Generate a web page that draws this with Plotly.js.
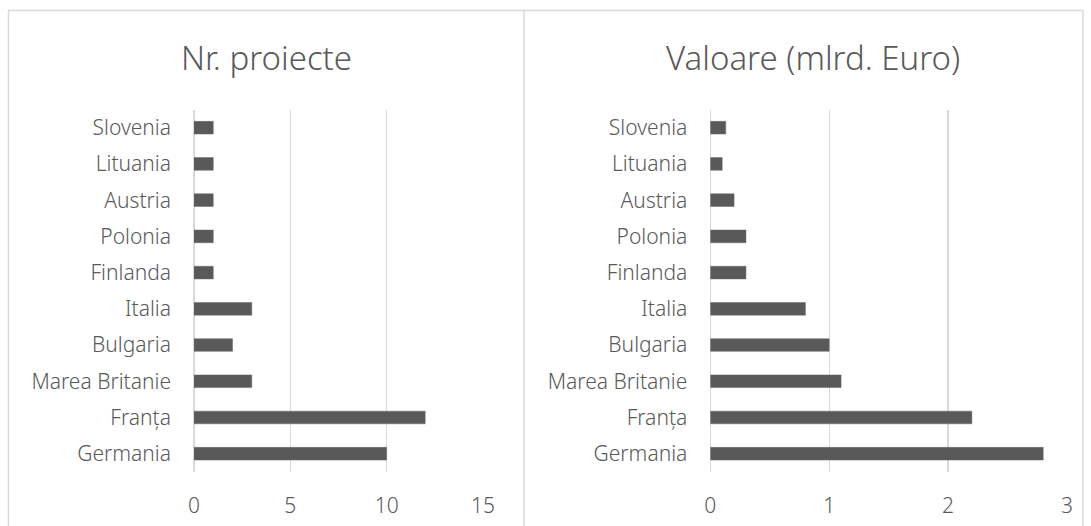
<!DOCTYPE html>
<html>
<head>
<meta charset="utf-8">
<script src="https://cdn.plot.ly/plotly-3.0.1.min.js"></script>
<style>
html,body{margin:0;padding:0;background:#fff;}
#chart{width:1091px;height:526px;}
</style>
</head>
<body>
<div id="chart"></div>
<script>
// Categories listed bottom to top
const countries = ['Germania','Franța','Marea Britanie','Bulgaria','Italia','Finlanda','Polonia','Austria','Lituania','Slovenia'];
const nrProiecte = [10, 12, 3, 2, 3, 1, 1, 1, 1, 1];
const valoare = [2.8, 2.2, 1.1, 1.0, 0.8, 0.3, 0.3, 0.2, 0.1, 0.13];
const leftTitle = 'Nr. proiecte';
const rightTitle = 'Valoare (mlrd. Euro)';
const leftTicks = [0, 5, 10, 15];
const rightTicks = [0, 1, 2, 3];

const W = 1091, H = 526;
const px = v => v / W;
const py = v => 1 - v / H;

const textColor = '#595959';
const gridColor = '#d9d9d9';
const barColor = '#595959';
const font = 'Noto Sans, Open Sans, sans-serif';

const plotTop = 109.6, plotBottom = 471.8;

const traces = [
  {type:'bar', orientation:'h', y: countries, x: nrProiecte, xaxis:'x', yaxis:'y',
   marker:{color:barColor, line:{color:'#6b6b6b', width:0.5}}, hoverinfo:'x+y'},
  {type:'bar', orientation:'h', y: countries, x: valoare, xaxis:'x2', yaxis:'y2',
   marker:{color:barColor, line:{color:'#6b6b6b', width:0.5}}, hoverinfo:'x+y'}
];

function xAxis(domain, range, ticks){
  return {
    domain: domain, range: range, tickvals: ticks, ticktext: ticks.map(String),
    showgrid: true, gridcolor: gridColor, gridwidth: 1.3,
    zeroline: true, zerolinecolor: gridColor, zerolinewidth: 1.5,
    showline: false, ticks: '', ticklabelstandoff: 19,
    tickfont: {family: font, size: 21, color: textColor, weight: 300}, fixedrange: true
  };
}
function yAxis(domain, anchor){
  return {
    domain: domain, anchor: anchor, type: 'category',
    showgrid: false, zeroline: false, showline: false, ticks: '',
    ticklabelstandoff: 22,
    tickfont: {family: font, size: 21, color: textColor, weight: 300}, fixedrange: true
  };
}

const yDom = [py(plotBottom), py(plotTop)];

const layout = {
  width: W, height: H,
  margin: {l:0, r:0, t:0, b:0, pad:0},
  paper_bgcolor: '#ffffff', plot_bgcolor: 'rgba(0,0,0,0)',
  showlegend: false, bargap: 0.65,
  xaxis: Object.assign(xAxis([px(194), px(483)], [0, 15], leftTicks), {anchor:'y'}),
  yaxis: yAxis(yDom, 'x'),
  xaxis2: Object.assign(xAxis([px(710.3), px(1067)], [0, 3], rightTicks), {anchor:'y2'}),
  yaxis2: yAxis(yDom, 'x2'),
  annotations: [
    {text: leftTitle, xref:'paper', yref:'paper', x: px(266), y: py(58), xanchor:'center', yanchor:'middle',
     showarrow:false, font:{family:font, size:33, color:textColor, weight:300}},
    {text: rightTitle, xref:'paper', yref:'paper', x: px(813), y: py(58), xanchor:'center', yanchor:'middle',
     showarrow:false, font:{family:font, size:33, color:textColor, weight:300}}
  ],
  shapes: [
    {type:'line', xref:'paper', yref:'paper', x0: px(8), x1: px(1083.5), y0: py(10.5), y1: py(10.5), line:{color:gridColor, width:1.5}},
    {type:'line', xref:'paper', yref:'paper', x0: px(8.5), x1: px(8.5), y0: py(10.5), y1: 0, line:{color:gridColor, width:1.5}},
    {type:'line', xref:'paper', yref:'paper', x0: px(524), x1: px(524), y0: py(10.5), y1: 0, line:{color:gridColor, width:1.5}},
    {type:'line', xref:'paper', yref:'paper', x0: px(1083), x1: px(1083), y0: py(10.5), y1: 0, line:{color:gridColor, width:1.5}}
  ]
};

Plotly.newPlot('chart', traces, layout, {displayModeBar:false, staticPlot:true});
</script>
</body>
</html>
